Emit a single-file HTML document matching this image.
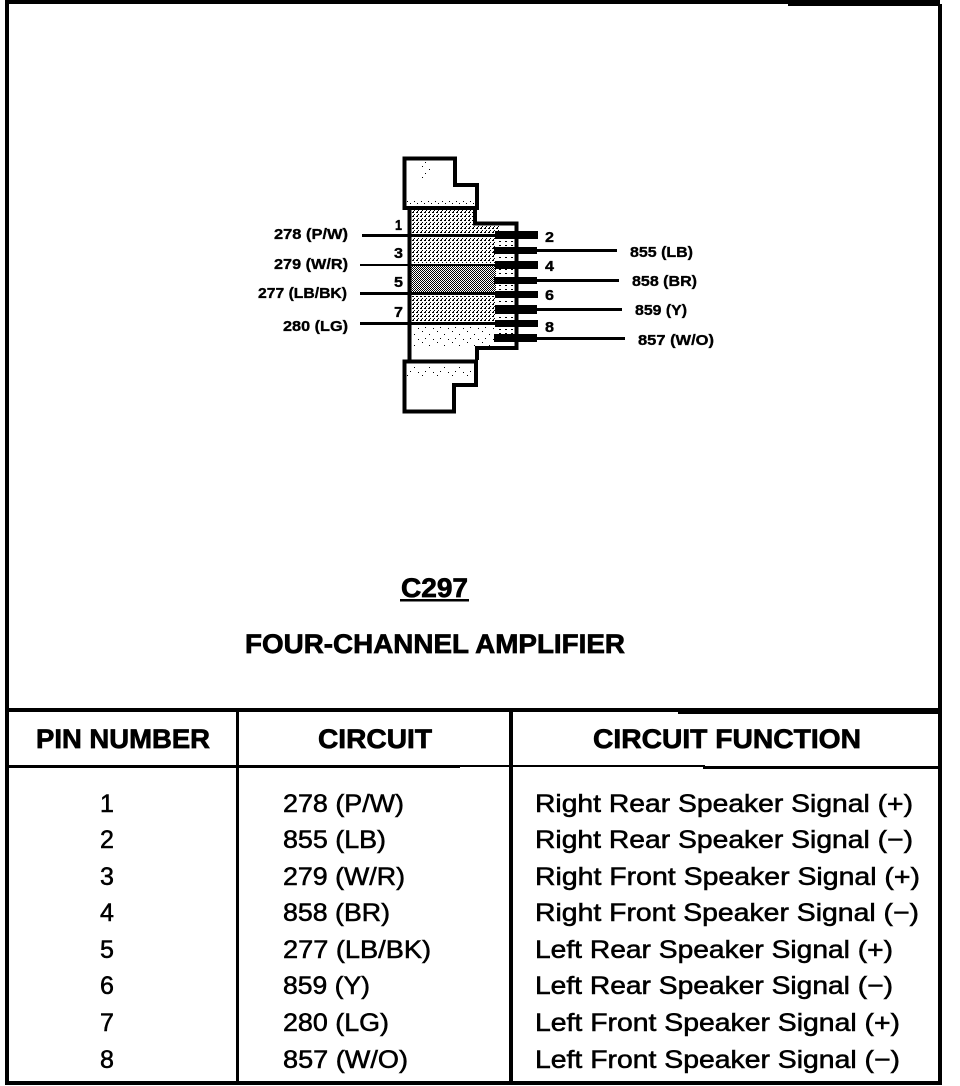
<!DOCTYPE html>
<html><head><meta charset="utf-8"><style>
html,body{margin:0;padding:0;background:#fff;width:960px;height:1086px;overflow:hidden}
svg{display:block}
text{font-family:"Liberation Sans",sans-serif;fill:#000;stroke:#000}
.s{font-size:15px;font-weight:bold;stroke-width:.35}
.t{font-size:25px;stroke-width:.55}
.h{font-size:27px;font-weight:bold;stroke-width:.7}
</style></head><body>
<svg width="960" height="1086" viewBox="0 0 960 1086" xmlns="http://www.w3.org/2000/svg">
<defs>
<pattern id="p1" width="4" height="4" patternUnits="userSpaceOnUse"><rect width="4" height="4" fill="#fff"/><rect width="2" height="1" fill="#000"/><rect x="2" y="2" width="1" height="1" fill="#000"/><rect x="1" y="3" width="1" height="1" fill="#000"/></pattern>
<pattern id="p2" width="2" height="2" patternUnits="userSpaceOnUse"><rect width="2" height="2" fill="#fff"/><rect width="1" height="1" fill="#000"/><rect x="1" y="1" width="1" height="1" fill="#000"/></pattern>
<pattern id="p3" width="15" height="11" patternUnits="userSpaceOnUse"><rect width="15" height="11" fill="#fff"/><rect x="2" y="1" width="1" height="1" fill="#000"/><rect x="9" y="4" width="1" height="1" fill="#000"/><rect x="5" y="8" width="1" height="1" fill="#000"/><rect x="13" y="9" width="1" height="1" fill="#000"/></pattern>
<pattern id="p4" width="6" height="4" patternUnits="userSpaceOnUse"><rect width="6" height="4" fill="#fff"/><rect x="1" y="1" width="2" height="1" fill="#000"/></pattern>
<pattern id="p5" width="7" height="5" patternUnits="userSpaceOnUse"><rect width="7" height="5" fill="#fff"/><rect x="1" y="1" width="1" height="1" fill="#000"/><rect x="4" y="3" width="1" height="1" fill="#000"/></pattern>
</defs>

<g fill="#000" shape-rendering="crispEdges">
<!-- frame -->
<rect x="5" y="0" width="4" height="1084"/>
<rect x="5" y="0" width="935" height="4"/>
<rect x="788" y="4" width="154" height="2"/>
<rect x="938" y="4" width="4" height="1078"/>
<rect x="5" y="1081" width="937" height="4"/>
<rect x="5" y="708" width="935" height="4"/>
<rect x="678" y="712" width="262" height="2"/>
<rect x="5" y="765" width="455" height="3"/>
<rect x="460" y="765" width="245" height="2"/>
<rect x="703" y="766" width="237" height="3"/>
<rect x="236" y="710" width="3" height="372"/>
<rect x="509" y="710" width="4" height="372"/>
</g>

<!-- connector -->
<g shape-rendering="crispEdges">
<path d="M411 209H475V224H516V347H411Z" fill="#fff"/>
<rect x="411" y="209" width="64" height="27" fill="url(#p1)"/>
<rect x="475" y="224" width="25" height="12" fill="url(#p1)"/>
<rect x="411" y="238" width="85" height="25" fill="url(#p1)"/>
<rect x="411" y="266" width="85" height="26" fill="url(#p2)"/>
<rect x="411" y="296" width="85" height="26" fill="url(#p1)"/>
<rect x="411" y="325" width="85" height="22" fill="url(#p3)"/>
<rect x="496" y="238" width="20" height="100" fill="url(#p4)"/>
<rect x="407" y="201" width="68" height="5" fill="url(#p5)"/>
<rect x="420" y="162" width="12" height="16" fill="url(#p3)"/>
<rect x="407" y="365" width="66" height="12" fill="url(#p3)"/>
<path d="M404.5 158.5H455V185H477V208H404.5Z" fill="none" stroke="#000" stroke-width="4"/>
<path d="M404.5 361.5H476V385H454V411.5H404.5Z" fill="none" stroke="#000" stroke-width="4"/>
<path d="M409.5 209V360M475 209V223.5H516.5V348H477V360" fill="none" stroke="#000" stroke-width="4"/>
</g>
<g fill="#000" shape-rendering="crispEdges">
<rect x="362" y="234" width="134" height="3"/>
<rect x="360" y="264" width="136" height="2"/>
<rect x="360" y="292" width="136" height="3"/>
<rect x="360" y="322" width="136" height="3"/>
<rect x="537" y="249" width="80" height="3"/>
<rect x="537" y="279" width="82" height="3"/>
<rect x="537" y="308" width="85" height="3"/>
<rect x="537" y="337" width="88" height="3"/>
<rect x="495" y="231" width="43" height="8"/>
<rect x="494" y="247" width="43" height="7"/>
<rect x="495" y="261" width="43" height="8"/>
<rect x="494" y="277" width="43" height="7"/>
<rect x="495" y="291" width="43" height="7"/>
<rect x="495" y="305" width="42" height="9"/>
<rect x="495" y="320" width="43" height="7"/>
<rect x="494" y="334" width="43" height="8"/>
</g>

<!-- pin digits -->
<text class="s" x="395" y="230" textLength="7" lengthAdjust="spacingAndGlyphs">1</text>
<text class="s" x="394" y="258" textLength="9" lengthAdjust="spacingAndGlyphs">3</text>
<text class="s" x="394" y="287" textLength="9" lengthAdjust="spacingAndGlyphs">5</text>
<text class="s" x="394" y="317" textLength="9" lengthAdjust="spacingAndGlyphs">7</text>
<text class="s" x="545" y="242" textLength="9" lengthAdjust="spacingAndGlyphs">2</text>
<text class="s" x="545" y="271" textLength="9" lengthAdjust="spacingAndGlyphs">4</text>
<text class="s" x="545" y="300" textLength="9" lengthAdjust="spacingAndGlyphs">6</text>
<text class="s" x="545" y="332" textLength="9" lengthAdjust="spacingAndGlyphs">8</text>

<!-- wire labels -->
<text class="s" x="274" y="239" textLength="74" lengthAdjust="spacingAndGlyphs">278 (P/W)</text>
<text class="s" x="274" y="269" textLength="74" lengthAdjust="spacingAndGlyphs">279 (W/R)</text>
<text class="s" x="258" y="298" textLength="89" lengthAdjust="spacingAndGlyphs">277 (LB/BK)</text>
<text class="s" x="283" y="331" textLength="65" lengthAdjust="spacingAndGlyphs">280 (LG)</text>
<text class="s" x="630" y="257" textLength="63" lengthAdjust="spacingAndGlyphs">855 (LB)</text>
<text class="s" x="632" y="286" textLength="65" lengthAdjust="spacingAndGlyphs">858 (BR)</text>
<text class="s" x="635" y="315" textLength="52" lengthAdjust="spacingAndGlyphs">859 (Y)</text>
<text class="s" x="638" y="345" textLength="76" lengthAdjust="spacingAndGlyphs">857 (W/O)</text>

<!-- title -->
<text class="h" x="401" y="597" textLength="67" lengthAdjust="spacingAndGlyphs">C297</text>
<rect x="400" y="599" width="69" height="2.5" fill="#000"/>
<text class="h" x="245" y="653" textLength="380" lengthAdjust="spacingAndGlyphs">FOUR-CHANNEL AMPLIFIER</text>

<!-- table head -->
<text class="h" x="36" y="748" textLength="174" lengthAdjust="spacingAndGlyphs">PIN NUMBER</text>
<text class="h" x="318" y="748" textLength="114" lengthAdjust="spacingAndGlyphs">CIRCUIT</text>
<text class="h" x="593" y="748" textLength="268" lengthAdjust="spacingAndGlyphs">CIRCUIT FUNCTION</text>

<!-- table rows -->
<text class="t" x="107" y="812" text-anchor="middle">1</text>
<text class="t" x="107" y="848" text-anchor="middle">2</text>
<text class="t" x="107" y="885" text-anchor="middle">3</text>
<text class="t" x="107" y="921" text-anchor="middle">4</text>
<text class="t" x="107" y="958" text-anchor="middle">5</text>
<text class="t" x="107" y="994" text-anchor="middle">6</text>
<text class="t" x="107" y="1031" text-anchor="middle">7</text>
<text class="t" x="107" y="1068" text-anchor="middle">8</text>

<text class="t" x="283" y="812" textLength="121" lengthAdjust="spacingAndGlyphs">278 (P/W)</text>
<text class="t" x="283" y="848" textLength="103" lengthAdjust="spacingAndGlyphs">855 (LB)</text>
<text class="t" x="283" y="885" textLength="122" lengthAdjust="spacingAndGlyphs">279 (W/R)</text>
<text class="t" x="283" y="921" textLength="107" lengthAdjust="spacingAndGlyphs">858 (BR)</text>
<text class="t" x="283" y="958" textLength="148" lengthAdjust="spacingAndGlyphs">277 (LB/BK)</text>
<text class="t" x="283" y="994" textLength="87" lengthAdjust="spacingAndGlyphs">859 (Y)</text>
<text class="t" x="283" y="1031" textLength="106" lengthAdjust="spacingAndGlyphs">280 (LG)</text>
<text class="t" x="283" y="1068" textLength="125" lengthAdjust="spacingAndGlyphs">857 (W/O)</text>

<text class="t" x="535" y="812" textLength="378" lengthAdjust="spacingAndGlyphs">Right Rear Speaker Signal (+)</text>
<text class="t" x="535" y="848" textLength="378" lengthAdjust="spacingAndGlyphs">Right Rear Speaker Signal (−)</text>
<text class="t" x="535" y="885" textLength="385" lengthAdjust="spacingAndGlyphs">Right Front Speaker Signal (+)</text>
<text class="t" x="535" y="921" textLength="384" lengthAdjust="spacingAndGlyphs">Right Front Speaker Signal (−)</text>
<text class="t" x="535" y="958" textLength="358" lengthAdjust="spacingAndGlyphs">Left Rear Speaker Signal (+)</text>
<text class="t" x="535" y="994" textLength="358" lengthAdjust="spacingAndGlyphs">Left Rear Speaker Signal (−)</text>
<text class="t" x="535" y="1031" textLength="365" lengthAdjust="spacingAndGlyphs">Left Front Speaker Signal (+)</text>
<text class="t" x="535" y="1068" textLength="365" lengthAdjust="spacingAndGlyphs">Left Front Speaker Signal (−)</text>
</svg>
</body></html>
